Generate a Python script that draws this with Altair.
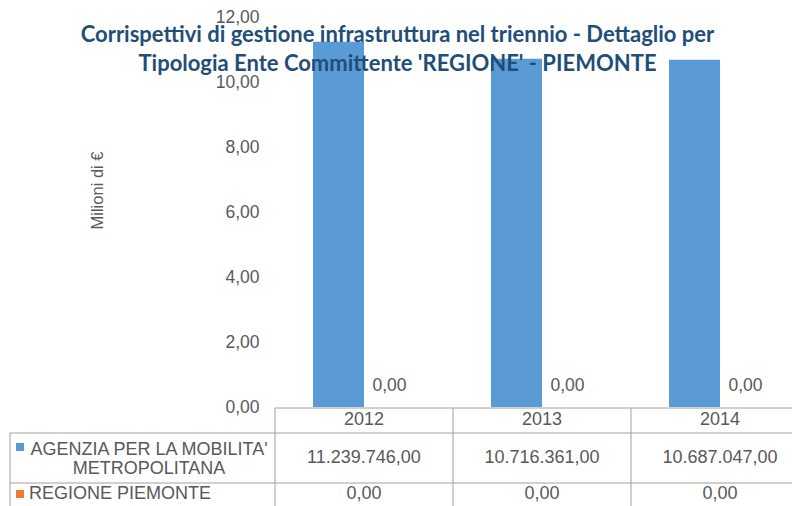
import textwrap
import altair as alt
import pandas as pd

# ---- data -------------------------------------------------------------
years = ["2012", "2013", "2014"]
agenzia = [11239746.00, 10716361.00, 10687047.00]
regione = [0.00, 0.00, 0.00]
series = ["AGENZIA PER LA MOBILITA' METROPOLITANA", "REGIONE PIEMONTE"]
series_colors = ["#5B9BD5", "#ED7D31"]
y_ticks = [0, 2, 4, 6, 8, 10, 12]
title_lines = [
    "Corrispettivi di gestione infrastruttura nel triennio - Dettaglio per",
    "Tipologia Ente Committente 'REGIONE' - PIEMONTE",
]
y_title = "Milioni  di  €"


def it_fmt(v):
    s = f"{v:,.2f}"
    return s.replace(",", "X").replace(".", ",").replace("X", ".")


rows = []
for i, yr in enumerate(years):
    for s, vals in zip(series, [agenzia, regione]):
        rows.append({
            "anno": yr,
            "serie": s,
            "valore": vals[i],
            "milioni": vals[i] / 1e6,
            "testo": it_fmt(vals[i]),
            "etichetta": it_fmt(vals[i] / 1e6),
        })
df = pd.DataFrame(rows)
df_years = pd.DataFrame({"anno": years})
df_series = pd.DataFrame({
    "serie": series,
    "label": [textwrap.fill(s, 25) for s in series],
})
one = pd.DataFrame({"k": [0]})

# ---- styles -------------------------------------------------------------
TXT = "#595959"
GRID = "#A0A0A0"
FONT = "Liberation Sans"
FS = 17.5
TFS = 18

x_scale = alt.Scale(domain=years, range=[0, 534], paddingInner=0, paddingOuter=0)
xoff_scale = alt.Scale(domain=series, paddingInner=0, paddingOuter=0.745)
y_scale = alt.Scale(domain=[0, 12], range=[390, 0])
color_scale = alt.Scale(domain=series, range=series_colors)

X = alt.X("anno:N", scale=x_scale, axis=None)

bars = alt.Chart(df).mark_bar().encode(
    x=X,
    xOffset=alt.XOffset("serie:N", scale=xoff_scale),
    y=alt.Y(
        "milioni:Q",
        scale=y_scale,
        axis=alt.Axis(
            values=y_ticks,
            labelExpr="replace(format(datum.value, '.2f'), '.', ',')",
            labelFont=FONT,
            labelFontSize=FS,
            labelColor=TXT,
            labelPadding=16,
            domain=False,
            ticks=False,
            grid=False,
            title=y_title,
            titleFont=FONT,
            titleFontSize=16.5,
            titleFontWeight="normal",
            titleColor=TXT,
            titleX=-178,
            titleY=173,
            titleAngle=270,
            titleBaseline="middle",
            titleAlign="center",
        ),
    ),
    color=alt.Color("serie:N", scale=color_scale, legend=None),
)

labels = alt.Chart(df).transform_filter(
    alt.datum.serie == series[1]
).mark_text(font=FONT, fontSize=FS, color=TXT, dy=-21).encode(
    x=X,
    xOffset=alt.XOffset("serie:N", scale=xoff_scale),
    y=alt.Y("milioni:Q", scale=y_scale),
    text="etichetta:N",
)

# ---- data table -----------------------------------------------------------
def hrule(x1, x2, y):
    return alt.Chart(one).mark_rule(color=GRID, strokeWidth=1).encode(
        x=alt.value(x1), x2=alt.value(x2), y=alt.value(y)
    )


def vrule(x, y1, y2):
    return alt.Chart(one).mark_rule(color=GRID, strokeWidth=1).encode(
        x=alt.value(x), y=alt.value(y1), y2=alt.value(y2)
    )


col_lines = alt.Chart(df_years).mark_rule(color=GRID, strokeWidth=1).encode(
    x=alt.X("anno:N", scale=x_scale, bandPosition=0, axis=None),
    y=alt.value(391),
    y2=alt.value(500),
)

header = alt.Chart(df_years).mark_text(font=FONT, fontSize=TFS, color=TXT).encode(
    x=alt.X("anno:N", scale=x_scale, bandPosition=0.5, axis=None),
    y=alt.value(403),
    text="anno:N",
)

row1 = alt.Chart(df).transform_filter(alt.datum.serie == series[0]).mark_text(
    font=FONT, fontSize=TFS, color=TXT
).encode(
    x=alt.X("anno:N", scale=x_scale, bandPosition=0.5, axis=None),
    y=alt.value(441),
    text="testo:N",
)

row2 = alt.Chart(df).transform_filter(alt.datum.serie == series[1]).mark_text(
    font=FONT, fontSize=TFS, color=TXT
).encode(
    x=alt.X("anno:N", scale=x_scale, bandPosition=0.5, axis=None),
    y=alt.value(477),
    text="testo:N",
)

lab1 = alt.Chart(df_series).transform_filter(alt.datum.serie == series[0]).mark_text(
    font=FONT, fontSize=TFS, color=TXT, align="center", lineBreak="\n", lineHeight=18.5
).encode(x=alt.value(-126), y=alt.value(433), text="label:N")

lab2 = alt.Chart(df_series).transform_filter(alt.datum.serie == series[1]).mark_text(
    font=FONT, fontSize=TFS, color=TXT, align="left"
).encode(x=alt.value(-246), y=alt.value(477), text="label:N")

keys1 = alt.Chart(df_series).transform_filter(alt.datum.serie == series[0]).mark_square(
    size=64, opacity=1
).encode(x=alt.value(-255), y=alt.value(430),
         color=alt.Color("serie:N", scale=color_scale, legend=None))

keys2 = alt.Chart(df_series).transform_filter(alt.datum.serie == series[1]).mark_square(
    size=64, opacity=1
).encode(x=alt.value(-255), y=alt.value(477),
         color=alt.Color("serie:N", scale=color_scale, legend=None))

chart = alt.layer(
    bars, labels,
    hrule(0, 534, 391), hrule(-265, 534, 416), hrule(-265, 534, 466),
    vrule(-265, 416, 500), col_lines,
    header, row1, row2, lab1, lab2, keys1, keys2,
).properties(
    width=517,
    height=489,
    autosize="none",
    padding={"left": 267, "top": 9, "right": 0, "bottom": 0},
    title=alt.TitleParams(
        text=title_lines,
        font="Lato",
        fontSize=22,
        fontWeight="bold",
        color="#1F4E79",
        anchor="middle",
        dx=-136,
        dy=72,
        lineHeight=29,
    ),
).configure_view(stroke=None)

chart.save("out.html", embed_options={"renderer": "svg", "actions": False})
